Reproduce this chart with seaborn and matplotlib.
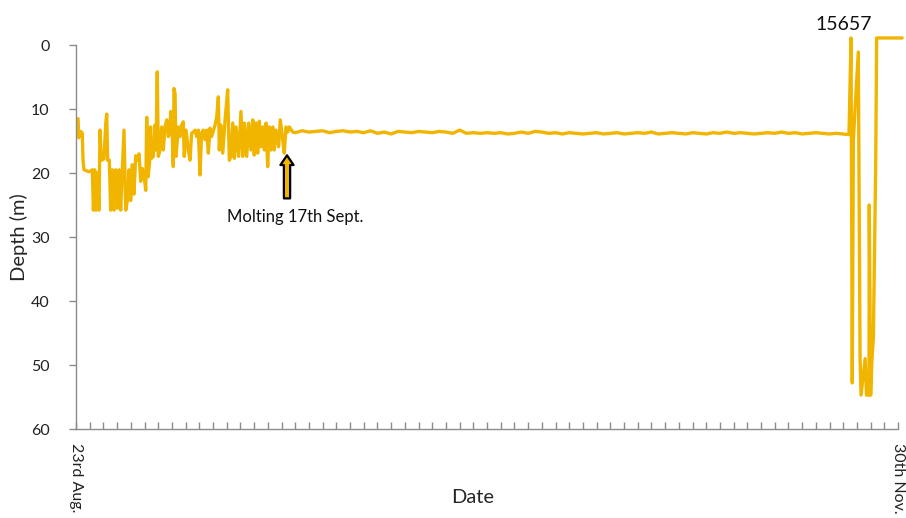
import matplotlib
matplotlib.use("Agg")
import matplotlib.pyplot as plt
import seaborn as sns
import pandas as pd

# x in axis tick units (60 tick intervals between 23rd Aug and 30th Nov)
tick_pos = [0.15, 0.2, 0.34, 0.46, 0.51, 0.58, 0.95, 1.19, 1.27, 1.36, 1.46, 1.56, 1.68, 1.75, 1.85,
            2.04, 2.17, 2.24, 2.31, 2.43, 2.53, 2.65, 2.77, 2.89, 3.02, 3.14, 3.26, 3.38, 3.5, 3.63,
            3.75, 3.87, 3.99, 4.11, 4.23, 4.36, 4.48, 4.6, 4.72, 4.84, 4.96, 5.09, 5.16, 5.26, 5.4,
            5.44, 5.52, 5.64, 5.77, 5.84, 5.93, 6.01, 6.13, 6.25, 6.37, 6.5, 6.62, 6.74, 6.86, 6.91,
            7.03, 7.1, 7.15, 7.23, 7.3, 7.47, 7.59, 7.71, 7.83, 7.9, 8.03, 8.2, 8.32, 8.44, 8.56,
            8.69, 8.81, 8.93, 9.05, 9.17, 9.29, 9.42, 9.54, 9.66, 9.78, 9.9, 10.15, 10.27, 10.39, 10.46,
            10.56, 10.71, 10.88, 11.07, 11.19, 11.31, 11.44, 11.56, 11.68, 11.87, 12.04, 12.17, 12.29, 12.46, 12.6,
            12.77, 12.9, 13.01, 13.14, 13.26, 13.38, 13.5, 13.63, 13.75, 13.87, 13.99, 14.11, 14.23, 14.36, 14.47,
            14.6, 14.79, 14.91, 15.09, 15.2, 15.33, 15.45, 15.57, 15.82,
            16, 16.5, 17, 17.5, 18, 18.5, 19, 19.5, 20, 20.5, 21, 21.5, 22, 22.5, 23, 23.5, 24, 24.5, 25, 25.5,
            26, 26.5, 27, 27.5, 28, 28.5, 29, 29.5, 30, 30.5, 31, 31.5, 32, 32.5, 33, 33.5, 34, 34.5, 35, 35.5,
            36, 36.5, 37, 37.5, 38, 38.5, 39, 39.5, 40, 40.5, 41, 41.5, 42, 42.5, 43, 43.5, 44, 44.5, 45, 45.5,
            46, 46.5, 47, 47.5, 48, 48.5, 49, 49.5, 50, 50.5, 51, 51.5, 52, 52.5, 53, 53.5, 54, 54.5, 55, 55.5,
            56, 56.42,
            56.57, 56.66, 56.74, 57.1, 57.23, 57.3, 57.6, 57.7, 57.88, 57.9, 58.0, 58.1, 58.2, 58.37, 58.44, 60.3]

depth = [11.5, 14.5, 13.5, 13.8, 18.0, 19.5, 19.8, 19.5, 25.8, 19.5, 25.8, 20.0, 25.8, 13.3, 18.0,
         17.8, 12.3, 10.8, 18.0, 18.0, 25.8, 19.5, 25.8, 19.5, 25.5, 19.5, 25.8, 19.5, 13.3, 25.8,
         24.3, 19.5, 24.3, 18.7, 23.3, 17.3, 18.0, 17.0, 21.3, 19.3, 20.3, 22.7, 11.3, 20.6, 17.6,
         12.8, 17.7, 17.4, 12.5, 16.4, 4.2, 17.4, 16.4, 12.8, 16.4, 12.8, 11.7, 14.3, 13.3, 10.4,
         14.3, 19.0, 6.8, 7.6, 17.4, 12.8, 14.3, 12.5, 12.0, 17.4, 13.3, 16.4, 18.0, 13.8, 13.6,
         13.3, 14.3, 13.3, 20.3, 13.8, 13.3, 14.8, 13.3, 16.9, 13.0, 14.3, 12.5, 11.2, 8.1, 16.4,
         12.5, 16.9, 11.7, 7.0, 18.0, 17.4, 12.2, 17.7, 12.8, 17.4, 10.4, 17.4, 12.2, 17.4, 12.2,
         16.4, 11.7, 17.2, 12.2, 16.9, 11.9, 15.9, 12.8, 16.4, 12.2, 19.0, 12.8, 16.4, 12.8, 16.4,
         13.3, 15.9, 11.7, 14.8, 16.9, 12.8, 13.6, 12.8, 13.6,
         13.7, 13.4, 13.6, 13.5, 13.4, 13.7, 13.5, 13.4, 13.6, 13.5, 13.7, 13.4, 13.8, 13.6, 13.9, 13.5, 13.6, 13.7, 13.5, 13.6,
         13.7, 13.5, 13.6, 13.8, 13.3, 13.8, 13.7, 13.8, 13.7, 13.8, 13.7, 13.9, 13.8, 13.6, 13.8, 13.5, 13.6, 13.8, 13.7, 13.9,
         13.7, 13.8, 13.9, 13.8, 13.7, 13.9, 13.8, 13.7, 13.9, 13.8, 13.7, 13.8, 13.6, 13.9, 13.8, 13.7, 13.8, 13.9, 13.7, 13.8,
         13.9, 13.7, 13.8, 13.6, 13.8, 13.7, 13.8, 13.9, 13.8, 13.7, 13.8, 13.6, 13.8, 13.7, 13.9, 13.8, 13.7, 13.8, 13.9, 13.8,
         13.9, 14.0,
         -1.1, 52.8, 14.8, 1.1, 49.0, 54.7, 49.0, 54.7, 54.7, 25.0, 54.7, 49.0, 45.8, 18.8, -1.1, -1.1]

y_ticks = [0, 10, 20, 30, 40, 50, 60]
date_labels = ["23rd Aug.", "30th Nov."]

df = pd.DataFrame({"tick": tick_pos, "depth": depth})

sns.set_style("white")
plt.rcParams['font.family'] = ['Lato', 'DejaVu Sans']

gold = "#F1B500"
grey = "#8C8C8C"

fig = plt.figure(figsize=(9.06, 5.18), dpi=100)
ax = fig.add_axes([0.0839, 0.1718, 0.9073, 0.7413])

sns.lineplot(data=df, x="tick", y="depth", sort=False, estimator=None,
             color=gold, linewidth=2.4, ax=ax, clip_on=False)

ax.set_xlim(0, 60)
ax.set_ylim(60, 0)
ax.set_yticks(y_ticks)
ax.set_yticklabels([str(v) for v in y_ticks], fontsize=11.5)

ax.set_xticks(range(61))
lbls = [""] * 61
lbls[0] = date_labels[0]
lbls[60] = date_labels[1]
ax.set_xticklabels(lbls, rotation=270, fontsize=11.5, va="top", ha="center")

ax.tick_params(axis="y", left=True, direction="out", length=5, color=grey, width=1, pad=14, labelcolor="#222222")
ax.tick_params(axis="x", bottom=True, direction="in", length=5, color=grey, width=1, pad=10, labelcolor="#222222")

for s in ["top", "right"]:
    ax.spines[s].set_visible(False)
for s in ["left", "bottom"]:
    ax.spines[s].set_color(grey)
    ax.spines[s].set_linewidth(1)

ax.set_xlabel("Date", fontsize=14.5)
ax.set_ylabel("Depth (m)", fontsize=14.5)
ax.xaxis.set_label_coords(0.483, -0.155)
ax.yaxis.set_label_coords(-0.058, 0.5)

ax.annotate("", xy=(15.4, 16.8), xytext=(15.4, 24.4),
            arrowprops=dict(arrowstyle="simple,head_length=0.7,head_width=0.95,tail_width=0.45",
                            fc=gold, ec="black", lw=1.6))
ax.text(16.0, 26.9, "Molting 17th Sept.", fontsize=12, ha="center", va="center", color="#111111")
ax.text(56.0, -3.2, "15657", fontsize=14, ha="center", va="center", color="#111111", clip_on=False)

fig.savefig("out.png", dpi=100)
